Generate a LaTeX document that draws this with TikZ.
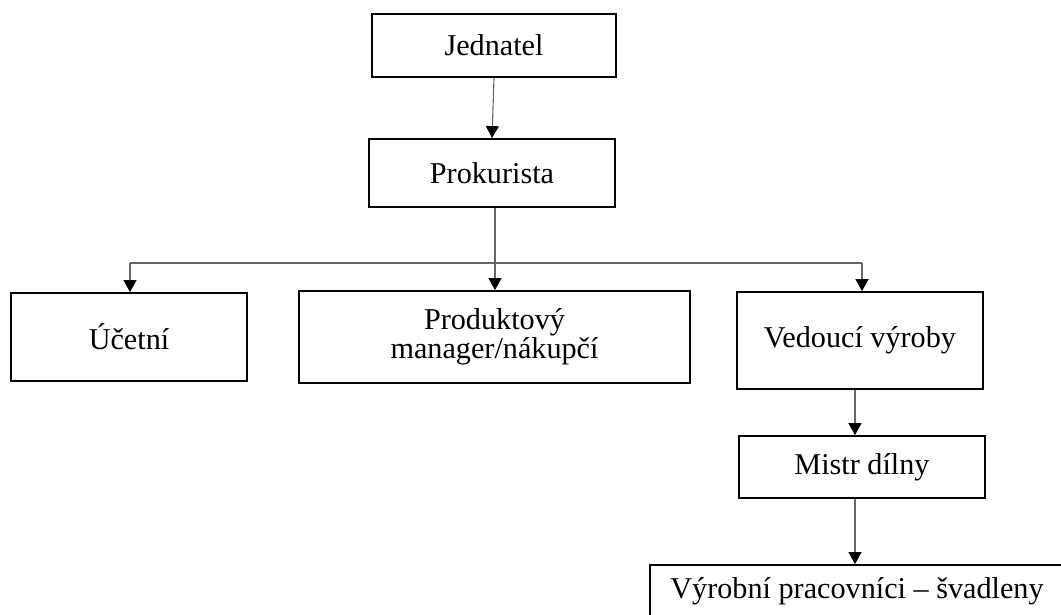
\documentclass[tikz,border=0pt]{standalone}
\usepackage{fontspec}
\setmainfont{Liberation Serif}
\usetikzlibrary{arrows.meta}
\begin{document}
\begin{tikzpicture}[x=1pt,y=-1pt,
  box/.style={draw=black,line width=1.8pt,rectangle,inner sep=0pt,align=center,
    font=\fontsize{30.2}{26.5}\selectfont},
  wire/.style={draw=black!60,line width=1.1pt},
  conn/.style={wire,-{Triangle[length=12pt,width=13pt,color=black]}}]
\useasboundingbox (0,0) rectangle (1061,615);
\clip (0,0) rectangle (1061,615);
\fill[white] (0,0) rectangle (1061,615);

\node[box,minimum width=244pt,minimum height=63pt] (jed) at (494,45.5) {Jednatel};
\node[box,minimum width=246pt,minimum height=68pt] (prok) at (492,173) {Prokurista};
\node[box,minimum width=236pt,minimum height=88pt] (uc) at (129,337) {Účetní};
\node[box,minimum width=391pt,minimum height=92pt] (prod) at (494.5,337) {Produktový\\manager/nákupčí};
\node[box,minimum width=246pt,minimum height=97pt] (ved) at (860,340.5) {Vedoucí výroby};
\node[box,minimum width=246pt,minimum height=62pt] (mis) at (862,467) {Mistr dílny};
\node[box,minimum width=414pt,minimum height=52pt] (vyr) at (857,591) {Výrobní pracovníci – švadleny};

\coordinate (bL) at (130,263);
\coordinate (bM) at (495,263);
\coordinate (bR) at (862,263);
\coordinate (vx) at (855,400);

\draw[conn] (jed.south) -- (prok.north);
\draw[wire] (prok.south -| bM) -- (bM);
\draw[wire] (bL) -- (bR);
\draw[conn] (bL) -- (bL |- uc.north);
\draw[conn] (bM) -- (bM |- prod.north);
\draw[conn] (bR) -- (bR |- ved.north);
\draw[conn] (vx |- ved.south) -- (vx |- mis.north);
\draw[conn] (vx |- mis.south) -- (vx |- vyr.north);
\end{tikzpicture}
\end{document}
